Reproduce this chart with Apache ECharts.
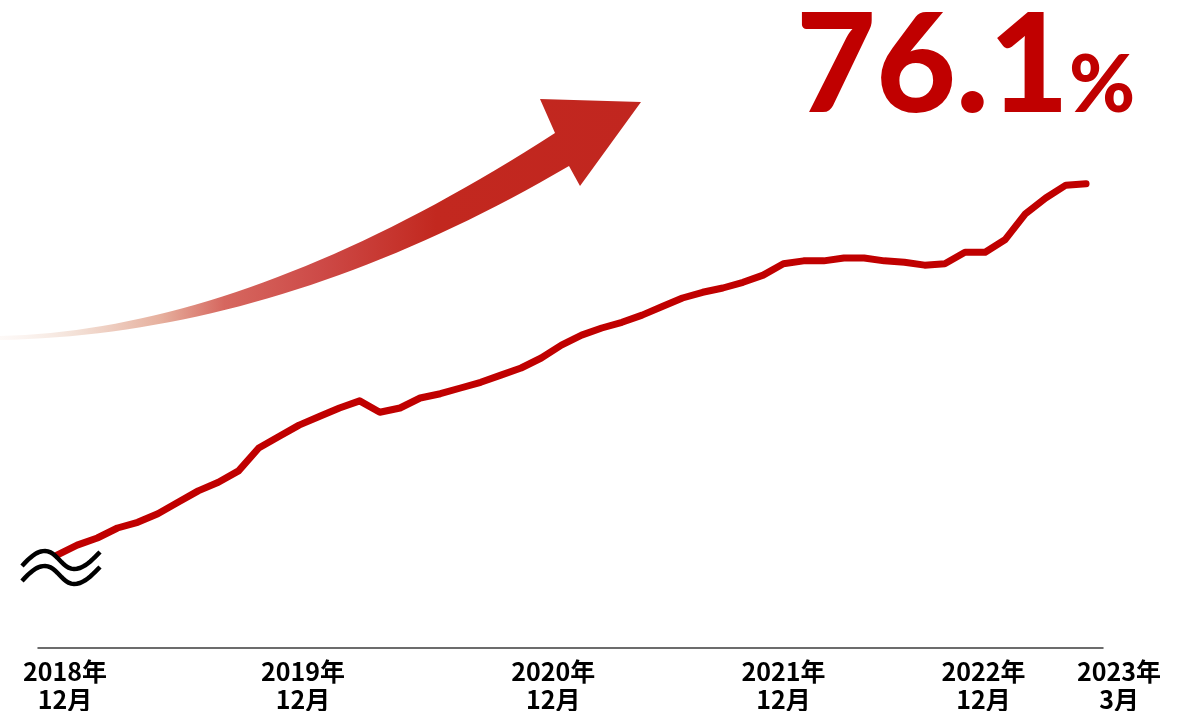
<!DOCTYPE html>
<html>
<head>
<meta charset="utf-8">
<script src="https://cdn.jsdelivr.net/npm/echarts@6/dist/echarts.min.js"></script>
<style>
  html, body { margin: 0; padding: 0; background: #ffffff; }
  #chart { width: 1191px; height: 711px; }
</style>
</head>
<body>
<div id="chart"></div>
<script>
// Monthly series, December 2018 to March 2023
const months = [
  '2018-12',
  '2019-01', '2019-02', '2019-03', '2019-04', '2019-05', '2019-06',
  '2019-07', '2019-08', '2019-09', '2019-10', '2019-11', '2019-12',
  '2020-01', '2020-02', '2020-03', '2020-04', '2020-05', '2020-06',
  '2020-07', '2020-08', '2020-09', '2020-10', '2020-11', '2020-12',
  '2021-01', '2021-02', '2021-03', '2021-04', '2021-05', '2021-06',
  '2021-07', '2021-08', '2021-09', '2021-10', '2021-11', '2021-12',
  '2022-01', '2022-02', '2022-03', '2022-04', '2022-05', '2022-06',
  '2022-07', '2022-08', '2022-09', '2022-10', '2022-11', '2022-12',
  '2023-01', '2023-02', '2023-03'
];

const values = [
  50.1,
  50.8, 51.3, 52.0, 52.4, 53.0, 53.8, 54.6, 55.2, 56.0, 57.6, 58.4, 59.2,
  59.8, 60.4, 60.9, 60.1, 60.4, 61.1, 61.4, 61.8, 62.2, 62.7, 63.2, 63.9,
  64.8, 65.5, 66.0, 66.4, 66.9, 67.5, 68.1, 68.5, 68.8, 69.2, 69.7, 70.5,
  70.7, 70.7, 70.9, 70.9, 70.7, 70.6, 70.4, 70.5, 71.3, 71.3, 72.2, 74.0,
  75.1, 76.0, 76.1
];

// Labelled months on the time axis
const tickMonths = ['2018-12', '2019-12', '2020-12', '2021-12', '2022-12', '2023-03'];
const tickLabels = ['2018年\n12月', '2019年\n12月', '2020年\n12月', '2021年\n12月', '2022年\n12月', '2023年\n3月'];

const headline = '76.1';
const headlineUnit = '%';

// Horizontal nudge (px) for each tick label, keeps the last two apart
const labelNudge = [8, 4, 12, 0, -42, 33];

const RED = '#C00000';
const labelFont = '"Noto Sans CJK JP", "Noto Sans", sans-serif';

const tickIndex = tickMonths.map(m => months.indexOf(m));

const labelRich = {};
labelNudge.forEach((d, k) => {
  labelRich['t' + k] = {
    fontFamily: labelFont,
    fontWeight: 'bold',
    fontSize: 25,
    lineHeight: 28,
    color: '#000',
    padding: d >= 0 ? [0, 0, 0, 2 * d] : [0, -2 * d, 0, 0]
  };
});

function tickFormatter(val) {
  const k = tickIndex.indexOf(Math.round(val));
  if (k < 0) return '';
  return tickLabels[k].split('\n').map(s => '{t' + k + '|' + s + '}').join('\n');
}

// --- helpers for the decorative shapes ---
function quad(p0, p1, p2, n) {
  const pts = [];
  for (let i = 0; i <= n; i++) {
    const t = i / n, u = 1 - t;
    pts.push([u * u * p0[0] + 2 * u * t * p1[0] + t * t * p2[0],
              u * u * p0[1] + 2 * u * t * p1[1] + t * t * p2[1]]);
  }
  return pts;
}
function cubic(p0, p1, p2, p3, n) {
  const pts = [];
  for (let i = 0; i <= n; i++) {
    const t = i / n, u = 1 - t;
    const a = u * u * u, b = 3 * u * u * t, c = 3 * u * t * t, d = t * t * t;
    pts.push([a * p0[0] + b * p1[0] + c * p2[0] + d * p3[0],
              a * p0[1] + b * p1[1] + c * p2[1] + d * p3[1]]);
  }
  return pts;
}

// curved arrow outline: upper edge of the shaft, head, lower edge back to the tail
const arrowPoints = []
  .concat(quad([0, 336], [250, 330], [555, 133], 40))
  .concat([[540, 99], [641, 102], [580, 186]])
  .concat(quad([569, 166], [280, 335], [0, 340], 40));

// one wave of the axis break mark, shifted down by dy
function wave(dy) {
  return []
    .concat(cubic([22, 566 + dy], [32, 555 + dy], [38, 551 + dy], [45, 551 + dy], 10))
    .concat(cubic([45, 551 + dy], [57, 551 + dy], [62, 569 + dy], [74, 569 + dy], 12).slice(1))
    .concat(cubic([74, 569 + dy], [84, 569 + dy], [92, 560 + dy], [100, 552 + dy], 10).slice(1));
}

const X_MIN = -0.94, X_MAX = 51.84;
const lastTick = tickIndex[tickIndex.length - 1];

const chart = echarts.init(document.getElementById('chart'), null, { renderer: 'canvas' });

const option = {
  animation: false,
  backgroundColor: '#ffffff',
  grid: { left: 38, right: 88, top: 128, bottom: 63, containLabel: false, outerBoundsMode: 'none' },
  xAxis: [
    {
      // main time axis: baseline and the yearly labels
      type: 'value',
      position: 'bottom',
      min: X_MIN,
      max: X_MAX,
      splitLine: { show: false },
      axisTick: { show: false },
      axisLine: { show: true, onZero: false, lineStyle: { color: '#3c3c3c', width: 1.5 } },
      axisLabel: {
        customValues: tickIndex.slice(0, -1),
        showMinLabel: true,
        showMaxLabel: true,
        margin: 9,
        formatter: tickFormatter,
        rich: labelRich
      }
    },
    {
      // companion axis carrying only the latest-month label
      type: 'value',
      position: 'bottom',
      offset: 0,
      min: X_MIN,
      max: X_MAX,
      splitLine: { show: false },
      axisTick: { show: false },
      axisLine: { show: false, onZero: false },
      axisLabel: {
        customValues: [lastTick],
        showMinLabel: true,
        showMaxLabel: true,
        margin: 9,
        formatter: tickFormatter,
        rich: labelRich
      }
    }
  ],
  yAxis: {
    type: 'value',
    min: 43.6,
    max: 80,
    show: false
  },
  series: [{
    type: 'line',
    xAxisIndex: 0,
    data: values.map((v, i) => [i, v]),
    showSymbol: false,
    lineStyle: { color: RED, width: 7, cap: 'round', join: 'round' },
    z: 3
  }],
  graphic: [
    {
      type: 'polygon',
      z: 1,
      shape: { points: arrowPoints },
      style: {
        fill: {
          type: 'linear', x: 0, y: 0, x2: 1, y2: 0,
          colorStops: [
            { offset: 0.00, color: 'rgba(250,240,235,0.4)' },
            { offset: 0.12, color: '#f3e0d6' },
            { offset: 0.25, color: '#e6b09e' },
            { offset: 0.35, color: '#d6675f' },
            { offset: 0.50, color: '#cd4a47' },
            { offset: 0.68, color: '#c2281f' },
            { offset: 1.00, color: '#c1261f' }
          ]
        }
      }
    },
    {
      type: 'polyline',
      z: 50,
      shape: { points: wave(0) },
      style: { fill: null, stroke: '#000', lineWidth: 4.5 }
    },
    {
      type: 'polyline',
      z: 50,
      shape: { points: wave(15) },
      style: { fill: null, stroke: '#000', lineWidth: 4.5 }
    },
    {
      type: 'text',
      z: 50,
      x: 796,
      y: -1.5,
      style: {
        text: '{n|' + headline + '}{p|' + headlineUnit + '}',
        rich: {
          n: { fontFamily: 'Lato', fontWeight: 900, fontSize: 138, lineHeight: 138, verticalAlign: 'bottom', fill: RED },
          p: { fontFamily: 'Lato', fontWeight: 900, fontSize: 80, verticalAlign: 'bottom', padding: [0, 0, 10, 0], fill: RED }
        }
      }
    }
  ]
};

chart.setOption(option);
</script>
</body>
</html>
